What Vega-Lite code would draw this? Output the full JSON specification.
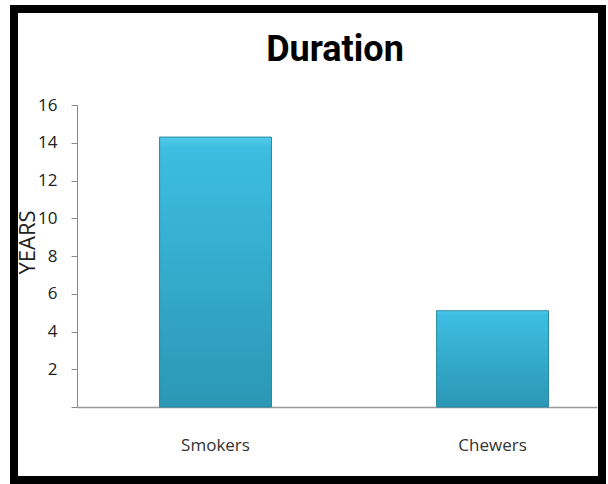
{
  "$schema": "https://vega.github.io/schema/vega-lite/v6.json",
  "width": 588,
  "height": 471,
  "autosize": "none",
  "padding": {"left": 14, "top": 9, "right": 6, "bottom": 4},
  "background": "white",
  "config": {
    "view": {"stroke": "#000000", "strokeWidth": 8, "fill": "white"}
  },
  "title": {
    "text": "Duration",
    "frame": "group",
    "anchor": "middle",
    "orient": "top",
    "offset": 0,
    "dx": 27,
    "dy": 88,
    "baseline": "alphabetic",
    "font": "Roboto",
    "fontWeight": "bold",
    "fontSize": 36,
    "color": "#000000"
  },
  "data": {
    "values": [
      {"group": "Smokers", "years": 14.3},
      {"group": "Chewers", "years": 5.1}
    ]
  },
  "mark": {
    "type": "bar",
    "color": {
      "gradient": "linear",
      "x1": 0, "y1": 0, "x2": 0, "y2": 1,
      "stops": [
        {"offset": 0, "color": "#52cbe9"},
        {"offset": 0.04, "color": "#3dbde1"},
        {"offset": 1, "color": "#2b97b5"}
      ]
    },
    "stroke": "#2a88a3",
    "strokeWidth": 1
  },
  "encoding": {
    "x": {
      "field": "group",
      "type": "nominal",
      "sort": null,
      "scale": {"range": [63, 583], "paddingInner": 0.596, "paddingOuter": 0.2365, "align": 0.63},
      "axis": {
        "title": null,
        "orient": "bottom",
        "offset": -73,
        "ticks": false,
        "domainColor": "#999999",
        "domainWidth": 1.5,
        "labelAngle": 0,
        "labelFont": "Open Sans",
        "labelFontSize": 17,
        "labelColor": "#333333",
        "labelPadding": 30
      }
    },
    "y": {
      "field": "years",
      "type": "quantitative",
      "scale": {"domain": [0, 16], "range": [398, 96], "nice": false, "zero": true},
      "axis": {
        "offset": -63,
        "values": [0, 2, 4, 6, 8, 10, 12, 14, 16],
        "labelExpr": "datum.value == 0 ? '' : datum.label",
        "grid": false,
        "tickColor": "#888888",
        "domainColor": "#888888",
        "tickSize": 6,
        "labelPadding": 14,
        "labelFont": "Open Sans",
        "labelFontSize": 17,
        "labelColor": "#222222",
        "title": "YEARS",
        "titleX": -50,
        "titleY": 233,
        "titleAngle": -90,
        "titleBaseline": "middle",
        "titleAlign": "center",
        "titleFont": "Open Sans",
        "titleFontSize": 22,
        "titleFontWeight": "normal",
        "titleColor": "#222222"
      }
    }
  }
}
